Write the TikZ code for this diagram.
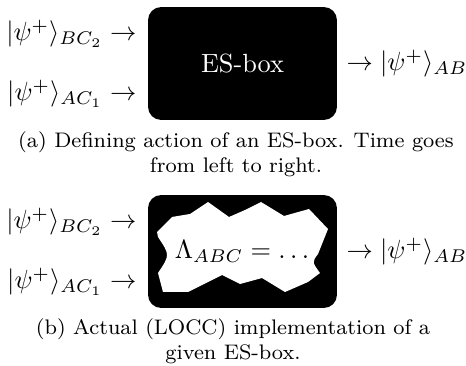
\documentclass[tikz,border=0pt]{standalone}
\begin{document}
\begin{tikzpicture}[>=stealth,line join=round,line cap=round,x=0.38pt,y=-0.38pt]
            \tikzset{esbox/.style={fill=black,rounded corners=5pt,inner sep=0pt,
                minimum width=71.8pt,minimum height=42.9pt,text=white},
              inlabel/.style={anchor=east,inner sep=0pt},
              outlabel/.style={anchor=west,inner sep=0pt},
              subcap/.style={font=\footnotesize,align=center,anchor=base,inner sep=0pt}}
            \useasboundingbox (0,0) rectangle (466,366);
            % (a)
            \node[esbox] (box) at (242.5,63.5) {ES-box};
            \node[inlabel] (bc) at (137,33.5) {$|\psi^+\rangle_{BC_2} \rightarrow$};
            \node[inlabel] (ac) at (137,93.5) {$|\psi^+\rangle_{AC_1} \rightarrow$};
            \node[outlabel] (ab) at (346,63.5) {$\rightarrow |\psi^+\rangle_{AB}$};
            \node[subcap] (capa) at (236,173) {(a) Defining action of an ES-box. Time goes\\ from left to right.};
            % (b)
            \node[esbox] (impl) at (242.5,251.5) {};
            \fill[white] (157,232) -- (172,217) -- (190,214) -- (208,202) -- (229,217)
              -- (245,210) -- (261,202) -- (284,216) -- (309,209) -- (328,229)
              -- (318,254) .. controls (312,262) .. (320,273) -- (308,282)
              -- (285,292) -- (262,278) -- (240,284) -- (222,275) -- (188,292)
              -- (163,292) -- (158,273) .. controls (170,255) .. (158,237) -- cycle;
            \node (lam) at (242,251.5) {$\Lambda_{ABC} = \ldots$};
            \node[inlabel] (bc2) at (137,221.5) {$|\psi^+\rangle_{BC_2} \rightarrow$};
            \node[inlabel] (ac2) at (137,281.5) {$|\psi^+\rangle_{AC_1} \rightarrow$};
            \node[outlabel] (ab2) at (346,251.5) {$\rightarrow |\psi^+\rangle_{AB}$};
            \node[subcap] (capb) at (233,360) {(b) Actual (LOCC) implementation of a\\ given ES-box.};
        \end{tikzpicture}
\end{document}
